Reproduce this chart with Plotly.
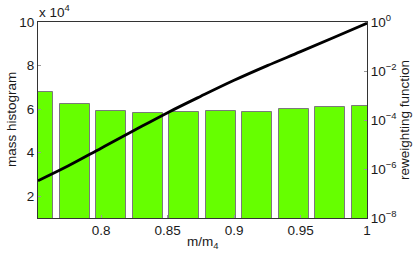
import plotly.graph_objects as go

# Histogram data
bin_centers = [0.7525, 0.78, 0.8075, 0.835, 0.8625, 0.89, 0.9175, 0.945, 0.9725, 1.0]
mass_hist = [67700, 62400, 59200, 58400, 58700, 59200, 58600, 60000, 61100, 61600]

# Reweighting function (log10 values)
rw_x = [0.7525, 0.775, 0.8, 0.825, 0.85, 0.875, 0.9, 0.925, 0.95, 0.975, 1.0]
rw_log10 = [-6.48, -5.88, -5.15, -4.42, -3.70, -3.03, -2.38, -1.78, -1.21, -0.63, -0.05]
rw_y = [10 ** v for v in rw_log10]

left_tickvals = [20000, 40000, 60000, 80000, 100000]
left_ticktext = ["2", "4", "6", "8", "10"]
right_tickvals = [1e-8, 1e-6, 1e-4, 1e-2, 1]
right_ticktext = ["10<sup>−8</sup>", "10<sup>−6</sup>", "10<sup>−4</sup>", "10<sup>−2</sup>", "10<sup>0</sup>"]
x_tickvals = [0.8, 0.85, 0.9, 0.95, 1.0]
x_ticktext = ["0.8", "0.85", "0.9", "0.95", "1"]

FS = 13.5
font = dict(family="Liberation Sans, Arial, sans-serif", size=FS, color="#1a1a1a")

fig = go.Figure()
fig.add_trace(go.Bar(
    x=bin_centers, y=mass_hist, width=0.0225,
    marker=dict(color="#66ff00", line=dict(color="#7a7a7a", width=1)),
    yaxis="y", showlegend=False,
))
fig.add_trace(go.Scatter(
    x=rw_x, y=rw_y, mode="lines", line=dict(color="black", width=2.8, shape="spline"),
    yaxis="y2", showlegend=False,
))

fig.update_layout(
    width=415, height=254,
    margin=dict(l=38, r=48, t=22, b=36),
    paper_bgcolor="white", plot_bgcolor="white",
    font=font,
    xaxis=dict(range=[0.7525, 1.0], tickvals=x_tickvals, ticktext=x_ticktext,
               ticks="inside", ticklen=3, tickcolor="#999",
               showline=True, linecolor="#333", linewidth=1, mirror=True,
               showgrid=False, zeroline=False, automargin=False),
    yaxis=dict(range=[10000, 100000], tickvals=left_tickvals, ticktext=left_ticktext,
               ticks="inside", ticklen=3, tickcolor="#999",
               showline=True, linecolor="#333", linewidth=1,
               showgrid=False, zeroline=False, automargin=False),
    yaxis2=dict(type="log", range=[-8, 0], overlaying="y", side="right",
                tickvals=right_tickvals, ticktext=right_ticktext,
                ticks="inside", ticklen=3, tickcolor="#999",
                showline=True, linecolor="#333", linewidth=1,
                showgrid=False, zeroline=False, automargin=False),
    bargap=0,
    annotations=[
        dict(text="x 10<sup>4</sup>", xref="paper", yref="paper",
             x=-0.003, y=1.0, xanchor="left", yanchor="bottom",
             showarrow=False, font=dict(size=FS)),
        dict(text="mass histogram", xref="paper", yref="paper",
             x=-38 / 329 + 11 / 329, y=0.5, xanchor="center", yanchor="middle",
             textangle=-90, showarrow=False, font=dict(size=FS)),
        dict(text="reweighting function", xref="paper", yref="paper",
             x=1 + 37 / 329, y=0.5, xanchor="center", yanchor="middle",
             textangle=-90, showarrow=False, font=dict(size=FS)),
        dict(text="m/m<sub>4</sub>", xref="paper", yref="paper",
             x=0.5, y=-14 / 196, xanchor="center", yanchor="top",
             showarrow=False, font=dict(size=FS)),
    ],
)

fig.write_html("out.html", config={"displayModeBar": False},
               post_script="document.body.style.margin='0';document.body.style.overflow='hidden';")
